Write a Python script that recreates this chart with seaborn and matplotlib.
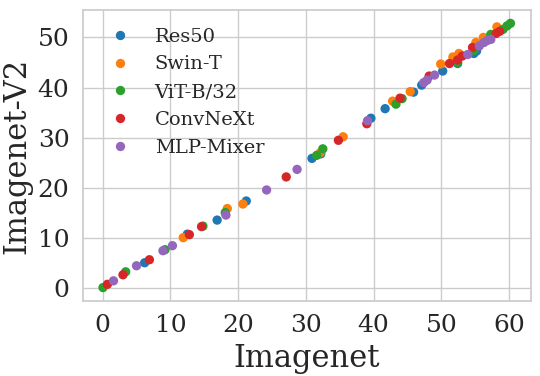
import numpy as np
import pandas as pd
import matplotlib
matplotlib.use("Agg")
import matplotlib.pyplot as plt
import seaborn as sns

# accuracy pairs (Imagenet, Imagenet-V2)
res50_x = [6.2, 12.5, 16.9, 21.2, 30.9, 32.2, 39.6, 41.7, 45.9, 47.1, 50.2, 52.4, 54.8, 55.2]
res50_y = [5.1, 10.8, 13.6, 17.4, 25.9, 26.8, 33.9, 35.8, 39.1, 40.5, 43.3, 44.8, 46.8, 47.3]

swin_x = [11.9, 18.4, 20.7, 32.1, 35.5, 42.8, 45.4, 49.9, 51.7, 52.6, 55.1, 56.2, 58.2]
swin_y = [10.1, 15.9, 16.8, 27.0, 30.2, 37.3, 39.2, 44.7, 46.1, 46.8, 49.0, 50.0, 52.1]

vit_x = [0.05, 3.4, 9.2, 14.8, 18.1, 31.6, 32.5, 43.3, 44.2, 52.4, 54.8, 57.3, 59.1, 59.7, 60.2]
vit_y = [0.15, 3.3, 7.7, 12.4, 15.1, 26.5, 27.8, 36.7, 37.8, 45.0, 47.4, 50.6, 51.6, 52.3, 52.8]

convnext_x = [0.7, 3.0, 6.9, 12.8, 14.6, 27.1, 34.8, 39.0, 43.9, 48.2, 51.2, 52.4, 53.1, 54.6, 58.1, 58.6]
convnext_y = [0.8, 2.7, 5.7, 10.7, 12.3, 22.2, 29.5, 32.8, 37.9, 42.3, 44.8, 45.5, 46.3, 48.0, 50.8, 51.2]

mixer_x = [1.6, 5.0, 8.9, 10.3, 18.2, 24.2, 28.7, 39.1, 47.4, 47.9, 49.0, 53.9, 55.6, 56.3, 56.8, 57.3]
mixer_y = [1.5, 4.5, 7.5, 8.5, 14.6, 19.6, 23.7, 33.4, 41.0, 41.5, 42.5, 46.6, 48.3, 49.0, 49.4, 49.6]

models = ["Res50", "Swin-T", "ViT-B/32", "ConvNeXt", "MLP-Mixer"]
xs = [res50_x, swin_x, vit_x, convnext_x, mixer_x]
ys = [res50_y, swin_y, vit_y, convnext_y, mixer_y]

frames = []
for m, x, y in zip(models, xs, ys):
    frames.append(pd.DataFrame({"Imagenet": x, "Imagenet-V2": y, "model": m}))
df = pd.concat(frames, ignore_index=True)

sns.set_theme(style="whitegrid", font="serif")

fig = plt.figure(figsize=(5.4, 3.76), dpi=100)
ax = fig.add_axes([0.153, 0.2, 0.83, 0.773])
sns.scatterplot(data=df, x="Imagenet", y="Imagenet-V2", hue="model", hue_order=models,
                palette="tab10", s=45, linewidth=0, alpha=1, ax=ax)

ax.set_xticks([0, 10, 20, 30, 40, 50, 60])
ax.set_yticks([0, 10, 20, 30, 40, 50])
ax.tick_params(labelsize=18)
ax.set_xlabel("Imagenet", fontsize=22)
ax.set_ylabel("Imagenet-V2", fontsize=22)
ax.legend(loc="upper left", frameon=False, fontsize=14, handletextpad=0.8)

fig.savefig("out.png", dpi=100)
